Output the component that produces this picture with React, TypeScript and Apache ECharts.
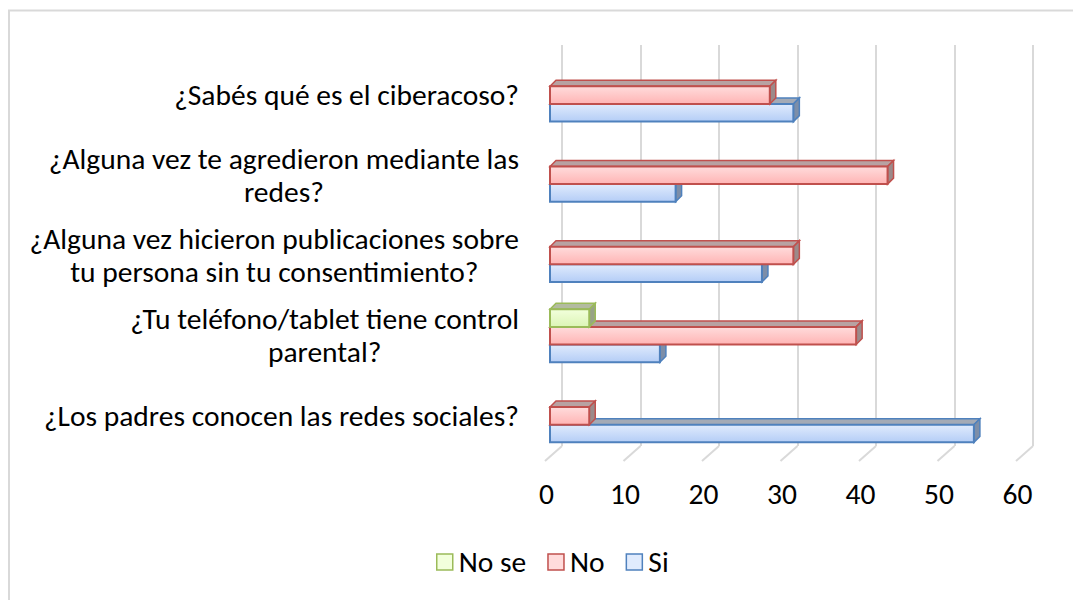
import React, { useEffect, useRef } from "react";
import * as echarts from "echarts";

const categories = [
  "¿Sabés qué es el ciberacoso?",
  "¿Alguna vez te agredieron mediante las\nredes?",
  "¿Alguna vez hicieron publicaciones sobre\ntu persona sin tu consentimiento?",
  "¿Tu teléfono/tablet tiene control\nparental?",
  "¿Los padres conocen las redes sociales?",
];
const seriesNames = ["No se", "No", "Si"];
const noSeValues = [0, 0, 0, 5, 0];
const noValues = [28, 43, 31, 39, 5];
const siValues = [31, 16, 27, 14, 54];
const tickValues = [0, 10, 20, 30, 40, 50, 60];

const FONT = "Carlito, Lato, sans-serif";
const FS = 29.5;

type Pal = { top: string; bottom: string; border: string; lid: string; side: string };
const palettes: Record<string, Pal> = {
  "No se": { top: "#f2ffdc", bottom: "#dcf5b6", border: "#9bbb59", lid: "#b3bba0", side: "#98a386" },
  No: { top: "#ffdcdc", bottom: "#ffb4b4", border: "#c0504d", lid: "#b8a2a2", side: "#9c8a8a" },
  Si: { top: "#e0ebfd", bottom: "#b4cdf6", border: "#4f81bd", lid: "#a3aab6", side: "#7d8ea8" },
};

function makeRender(slot: number, pal: Pal) {
  return (params: any, api: any) => {
    const val = api.value(0);
    const cat = api.value(1);
    if (!val) return { type: "group", children: [] };
    const p0 = api.coord([0, cat]);
    const p1 = api.coord([val, cat]);
    const band = api.size([0, 1])[1];
    const h = band * 0.22;
    const yt = p0[1] - 1.5 * h + slot * h;
    const x0 = p0[0];
    const x1 = p1[0];
    const d = 6;
    return {
      type: "group",
      children: [
        {
          type: "polygon",
          shape: { points: [[x0, yt], [x0 + d, yt - d], [x1 + d, yt - d], [x1, yt]] },
          style: { fill: pal.lid, stroke: pal.border, lineWidth: 1.5 },
        },
        {
          type: "polygon",
          shape: { points: [[x1, yt], [x1 + d, yt - d], [x1 + d, yt + h - d], [x1, yt + h]] },
          style: { fill: pal.side, stroke: pal.border, lineWidth: 1.5 },
        },
        {
          type: "rect",
          shape: { x: x0, y: yt, width: x1 - x0, height: h },
          style: {
            fill: {
              type: "linear", x: 0, y: 0, x2: 0, y2: 1,
              colorStops: [
                { offset: 0, color: pal.top },
                { offset: 1, color: pal.bottom },
              ],
            },
            stroke: pal.border,
            lineWidth: 2,
          },
        },
      ],
    };
  };
}

function barSeries(name: string, slot: number, values: number[]) {
  const pal = palettes[name];
  return {
    type: "custom",
    name,
    xAxisIndex: 0,
    yAxisIndex: 0,
    renderItem: makeRender(slot, pal),
    encode: { x: 0, y: 1 },
    itemStyle: { color: pal.top, borderColor: pal.border, borderWidth: 1.5 },
    data: values.map((v, i) => [v, i]),
    z: 3,
  };
}

export default function App() {
  const ref = useRef<HTMLDivElement>(null);
  useEffect(() => {
    if (!ref.current) return;
    const chart = echarts.init(ref.current, undefined, { renderer: "svg" });
    const option: any = {
      animation: false,
      backgroundColor: "#ffffff",
      grid: [
        { left: 550, top: 55, width: 471, height: 401 },
        { left: 562, top: 45, width: 471, height: 401 },
      ],
      xAxis: [
        {
          gridIndex: 0, type: "value", min: 0, max: 60, interval: 10,
          splitLine: { show: false }, axisLine: { show: false }, axisTick: { show: false },
          axisLabel: { fontSize: FS, fontFamily: FONT, color: "#000", margin: 23, padding: [0, 7, 0, 0] },
        },
        {
          gridIndex: 1, type: "value", min: 0, max: 60, interval: 10,
          splitLine: { show: true, lineStyle: { color: "#d9d9d9", width: 2 } },
          axisLine: { show: false }, axisTick: { show: false }, axisLabel: { show: false },
        },
      ],
      yAxis: [
        {
          gridIndex: 0, type: "category", data: categories, inverse: true,
          axisLine: { show: false }, axisTick: { show: false }, splitLine: { show: false },
          axisLabel: {
            margin: 31,
            align: "right",
            formatter: (v: string) => v.split("\n").map((l) => `{c|${l}}`).join("\n"),
            rich: { c: { align: "center", fontSize: FS, fontFamily: FONT, color: "#000", lineHeight: 33 } },
          },
        },
        { gridIndex: 1, type: "value", min: 0, max: 1, show: false },
      ],
      legend: {
        left: 436, top: 547, padding: 0, icon: "rect", itemWidth: 16, itemHeight: 16, itemGap: 21,
        textStyle: { fontSize: FS, fontFamily: FONT, color: "#000", padding: [0, 0, 0, 1] },
        data: seriesNames.map((n) => ({
          name: n,
          itemStyle: { color: palettes[n].top, borderColor: palettes[n].border, borderWidth: 1.5 },
        })),
      },
      graphic: [
        {
          type: "rect", silent: true,
          shape: { x: 9, y: 10.5, width: 1200, height: 800 },
          style: { fill: "none", stroke: "#d9d9d9", lineWidth: 2 },
        },
      ],
      series: [
        {
          type: "custom", name: "floor", xAxisIndex: 1, yAxisIndex: 1, silent: true,
          encode: { x: 0, y: 1 },
          data: tickValues.map((v) => [v, 0]),
          renderItem: (params: any, api: any) => {
            const p = api.coord([api.value(0), 0]);
            return {
              type: "line",
              shape: { x1: p[0], y1: p[1], x2: p[0] - 17, y2: p[1] + 15 },
              style: { stroke: "#d9d9d9", lineWidth: 2 },
            };
          },
          z: 1,
        },
        barSeries("Si", 2, siValues),
        barSeries("No", 1, noValues),
        barSeries("No se", 0, noSeValues),
      ],
    };
    chart.setOption(option);
    return () => chart.dispose();
  }, []);
  return <div ref={ref} style={{ position: "fixed", left: 0, top: 0, width: 1073, height: 600 }} />;
}
